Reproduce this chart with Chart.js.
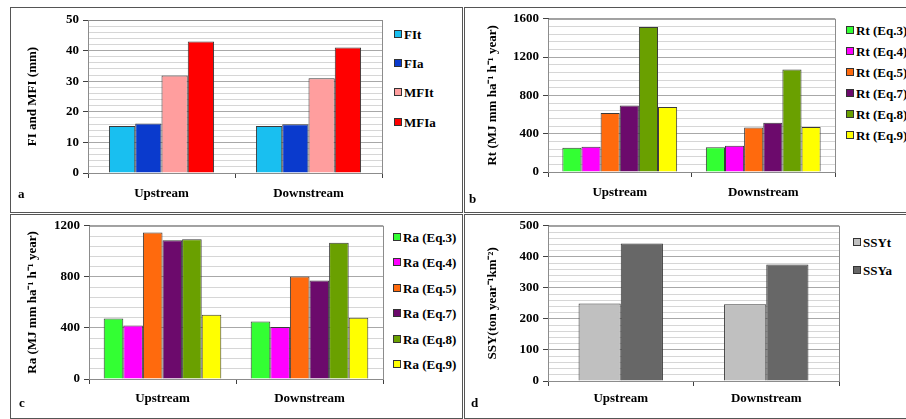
<!DOCTYPE html>
<html>
<head>
<meta charset="utf-8">
<script src="https://cdn.jsdelivr.net/npm/chart.js@4.4.1/dist/chart.umd.min.js"></script>
<style>
  body { margin: 0; background: #fff; width: 906px; height: 419px; overflow: hidden; position: relative;
         font-family: "Liberation Serif", "Times New Roman", serif; font-weight: bold; }
  .box { position: absolute; border: 1px solid #555; box-sizing: border-box; }
  canvas { position: absolute; }
  .letter { position: absolute; font-size: 13px; }
  .item { position: absolute; font-size: 13px; line-height: 14px; white-space: nowrap; }
  .item span { display: inline-block; width: 6px; height: 6px; border: 1px solid #333; margin-right: 2px; vertical-align: 1px; }
</style>
</head>
<body>
<div class="box" style="left:10px;top:7px;width:453px;height:206px"></div>
<div class="box" style="left:464px;top:7px;width:460px;height:206px"></div>
<div class="box" style="left:10px;top:214px;width:453px;height:205px"></div>
<div class="box" style="left:464px;top:214px;width:460px;height:205px"></div>

<canvas id="chartA" width="380" height="205" style="left:10px;top:7px"></canvas>
<canvas id="chartB" width="380" height="205" style="left:464px;top:7px"></canvas>
<canvas id="chartC" width="380" height="204" style="left:10px;top:214px"></canvas>
<canvas id="chartD" width="380" height="204" style="left:464px;top:214px"></canvas>

<div class="letter" style="left:18px;top:186px">a</div>
<div class="letter" style="left:469px;top:191px">b</div>
<div class="letter" style="left:19px;top:395px">c</div>
<div class="letter" style="left:471px;top:395px">d</div>

<script>
const categories = ["Upstream", "Downstream"];

// a: FI and MFI (mm)
const fiNames = ["FIt", "FIa", "MFIt", "MFIa"];
const fiColors = ["#19bff0", "#0a3acd", "#ff9e9e", "#ff0000"];
const fiT = [15.4, 15.4];
const fiA = [16.2, 15.9];
const mfiT = [31.9, 31.0];
const mfiA = [43.0, 41.0];

// b: Rt
const eqNames = ["Eq.3", "Eq.4", "Eq.5", "Eq.7", "Eq.8", "Eq.9"];
const eqColors = ["#33ff33", "#ff00ff", "#ff6a0d", "#6c0a6c", "#6aa000", "#ffff00"];
const rtEq3 = [253, 258];
const rtEq4 = [265, 275];
const rtEq5 = [615, 465];
const rtEq7 = [695, 515];
const rtEq8 = [1514, 1070];
const rtEq9 = [678, 470];

// c: Ra
const raEq3 = [474, 451];
const raEq4 = [420, 407];
const raEq5 = [1148, 803];
const raEq7 = [1086, 772];
const raEq8 = [1094, 1068];
const raEq9 = [503, 480];

// d: SSY
const ssyNames = ["SSYt", "SSYa"];
const ssyColors = ["#c0c0c0", "#676767"];
const ssyT = [250, 247];
const ssyA = [443, 375];

const font = { family: "'Liberation Serif', 'Times New Roman', serif", weight: "bold", size: 13 };

// gray frame round the plot area
const framePlugin = {
  id: "frame",
  beforeDatasetsDraw(chart) {
    const a = chart.chartArea, c = chart.ctx;
    c.save();
    c.strokeStyle = "#8c8c8c";
    c.lineWidth = 1;
    c.strokeRect(a.left + 0.5, a.top + 0.5, a.right - a.left, a.bottom - a.top);
    c.restore();
  }
};

function makeChart(id, names, colors, series, cfg) {
  const isMajor = v => Math.abs(v % cfg.major) < 1e-6;
  new Chart(document.getElementById(id), {
    type: "bar",
    data: {
      labels: categories,
      datasets: series.map((s, i) => ({
        label: names[i],
        data: s,
        backgroundColor: colors[i],
        borderColor: "#3a3a3a",
        borderWidth: 1,
        barPercentage: 1,
        categoryPercentage: cfg.catPct
      }))
    },
    options: {
      responsive: false,
      animation: false,
      devicePixelRatio: 1,
      layout: { padding: { top: cfg.top, right: cfg.right, bottom: 0, left: 0 } },
      plugins: { legend: { display: false }, tooltip: { enabled: false } },
      scales: {
        x: {
          afterFit: s => { s.height = cfg.xh; },
          grid: { display: true, drawOnChartArea: false, offset: true, tickLength: 5, color: "#404040" },
          border: { color: "#404040", width: 1 },
          ticks: { color: "#000", font: font, padding: cfg.xpad }
        },
        y: {
          min: 0,
          max: cfg.max,
          afterFit: s => { s.width = cfg.yw; },
          border: { color: "#404040", width: 1 },
          grid: {
            tickLength: 5,
            color: c => (c.tick && isMajor(c.tick.value)) ? "#a8a8a8" : "#d6d6d6",
            tickColor: c => (c.tick && isMajor(c.tick.value)) ? "#404040" : "rgba(0,0,0,0)"
          },
          ticks: {
            stepSize: cfg.minor,
            autoSkip: false,
            color: "#000",
            font: font,
            padding: 4,
            callback: v => isMajor(v) ? v : ""
          },
          title: { display: true, text: cfg.title, color: "#000", font: font, padding: { top: cfg.tpad, bottom: 0 } }
        }
      }
    },
    plugins: [framePlugin]
  });
}

function makeLegend(names, colors, x, y0, step) {
  names.forEach((n, i) => {
    const d = document.createElement("div");
    d.className = "item";
    d.style.left = x + "px";
    d.style.top = (y0 + i * step - 7) + "px";
    d.innerHTML = '<span style="background:' + colors[i] + '"></span>' + n;
    document.body.appendChild(d);
  });
}

makeChart("chartA", fiNames, fiColors, [fiT, fiA, mfiT, mfiA],
  { max: 50, minor: 2, major: 10, catPct: 0.715, top: 13, right: 8, yw: 78, xh: 39, xpad: 8, tpad: 15,
    title: "FI and MFI (mm)" });
makeChart("chartB", eqNames.map(e => "Rt (" + e + ")"), eqColors, [rtEq3, rtEq4, rtEq5, rtEq7, rtEq8, rtEq9],
  { max: 1600, minor: 80, major: 400, catPct: 0.8, top: 10, right: 9, yw: 84, xh: 40, xpad: 8, tpad: 21,
    title: "Rt (MJ mm ha\u207B\u00B9 h\u207B\u00B9 year)" });
makeChart("chartC", eqNames.map(e => "Ra (" + e + ")"), eqColors, [raEq3, raEq4, raEq5, raEq7, raEq8, raEq9],
  { max: 1200, minor: 80, major: 400, catPct: 0.8, top: 10, right: 7, yw: 79, xh: 39, xpad: 7, tpad: 15,
    title: "Ra (MJ mm ha\u207B\u00B9 h\u207B\u00B9 year)" });
makeChart("chartD", ssyNames, ssyColors, [ssyT, ssyA],
  { max: 500, minor: 20, major: 100, catPct: 0.58, top: 11, right: 5, yw: 84, xh: 37, xpad: 5, tpad: 21,
    title: "SSY(ton year\u207B\u00B9km\u207B\u00B2)" });

makeLegend(fiNames, fiColors, 394, 35, 29.2);
makeLegend(eqNames.map(e => "Rt (" + e + ")"), eqColors, 846, 31, 21);
makeLegend(eqNames.map(e => "Ra (" + e + ")"), eqColors, 393, 238, 25.4);
makeLegend(ssyNames, ssyColors, 853, 243, 28);
</script>
</body>
</html>
